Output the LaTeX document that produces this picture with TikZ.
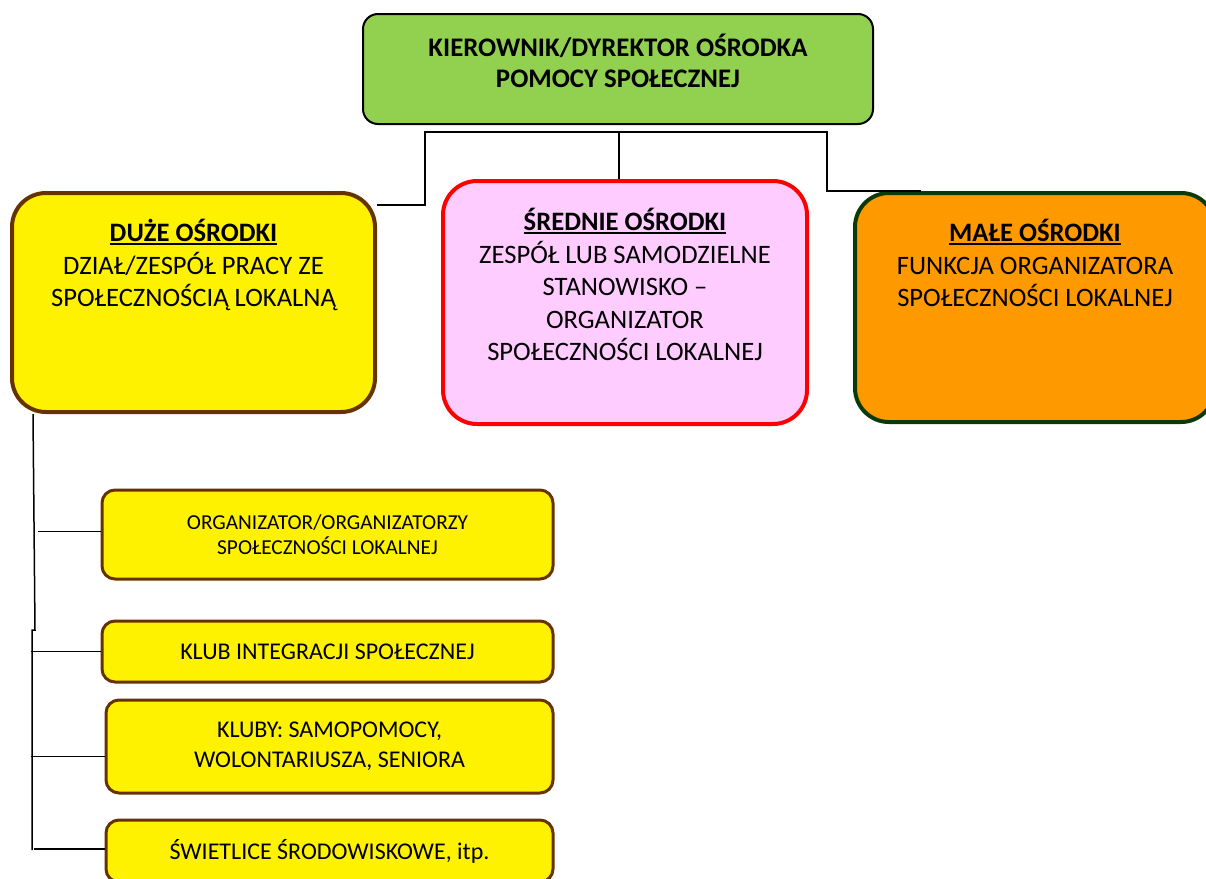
\documentclass[tikz,border=0pt]{standalone}
\usepackage{fontspec}
\setmainfont{Carlito}

\definecolor{bossgreen}{HTML}{92D050}
\definecolor{rootbrown}{HTML}{663300}
\definecolor{midpink}{HTML}{FFCCFF}
\definecolor{smallorange}{HTML}{FF9900}
\definecolor{darkgreen}{HTML}{0A3A0A}

% bold heading with a thick underline
\newcommand{\headtitle}[1]{\leavevmode\vtop{\hbox{\textbf{#1}}\kern1.5pt\hrule height 2pt}}

\begin{document}
\begin{tikzpicture}[x=1pt, y=-1pt,
  bigbox/.style={shape=rectangle, draw, line width=4pt, rounded corners=34pt, inner sep=0pt},
  smallbox/.style={shape=rectangle, draw=rootbrown, fill=yellow, line width=3pt, rounded corners=13pt, inner sep=0pt, minimum width=447pt, align=center, font=\fontsize{24}{30}\selectfont},
  boxtext/.style={anchor=north, inner sep=0pt, align=center, font=\fontsize{26.6}{32.5}\selectfont},
  link/.style={draw, line width=1.5pt}]
\useasboundingbox (0,0) rectangle (1206,878);

\node [bigbox, draw=black, line width=2pt, rounded corners=15pt, fill=bossgreen, minimum width=510pt, minimum height=110pt] (boss) at (618,69) {};
\node [bigbox, draw=red, fill=midpink, minimum width=364pt, minimum height=243pt, below of=boss, node distance=233.5pt, xshift=7pt] (srednie) {};
\node [bigbox, draw=rootbrown, fill=yellow, minimum width=363pt, minimum height=219pt, left of=srednie, node distance=431.5pt] (duze) {};
\node [bigbox, draw=darkgreen, fill=smallorange, minimum width=360pt, minimum height=229pt, right of=srednie, node distance=410pt, yshift=-5pt] (male) {};

\node [boxtext, font=\bfseries\fontsize{26.8}{30.5}\selectfont] (boss-text) at ([yshift=-21pt]boss.north) {KIEROWNIK/DYREKTOR OŚRODKA\\POMOCY SPOŁECZNEJ};
\node [boxtext] (duze-text) at ([yshift=-28pt]duze.north) {\headtitle{DUŻE OŚRODKI}\\DZIAŁ/ZESPÓŁ PRACY ZE\\SPOŁECZNOŚCIĄ LOKALNĄ};
\node [boxtext] (srednie-text) at ([yshift=-29pt]srednie.north) {\headtitle{ŚREDNIE OŚRODKI}\\ZESPÓŁ LUB SAMODZIELNE\\STANOWISKO –\\ORGANIZATOR\\SPOŁECZNOŚCI LOKALNEJ};
\node [boxtext] (male-text) at ([yshift=-28pt]male.north) {\headtitle{MAŁE OŚRODKI}\\FUNKCJA ORGANIZATORA\\SPOŁECZNOŚCI LOKALNEJ};

\node [smallbox, minimum width=451pt, minimum height=89pt, below of=duze, node distance=232pt, xshift=134pt, font=\fontsize{21.3}{25}\selectfont] (organizer) {ORGANIZATOR/ORGANIZATORZY\\SPOŁECZNOŚCI LOKALNEJ};
\node [smallbox, minimum width=451pt, minimum height=61pt, below of=organizer, node distance=117pt] (club) {KLUB INTEGRACJI SPOŁECZNEJ};
\node [smallbox, minimum height=93pt, below of=club, node distance=95pt, xshift=2pt] (clubs) {KLUBY: SAMOPOMOCY,\\WOLONTARIUSZA, SENIORA};
\node [smallbox, minimum height=62pt, below of=clubs, node distance=104.5pt] (daycare) {ŚWIETLICE ŚRODOWISKOWE, itp.};

% connectors from the head
\coordinate (hub) at (619,132);
\draw [link] ([yshift=-14pt]duze.north east) -- ++(48,0) |- (hub);
\draw [link] (srednie.north -| hub) -- (hub) -- ++(208,0) |- ([xshift=68pt]male.north west);

% trunk under the big centres
\coordinate (trunk) at ([xshift=23pt]duze.south west);
\coordinate (bend) at (35,630);
\coordinate (foot) at (32,850);
\draw [link] (trunk) -- (bend) -- ++(-3,0) -- (foot);
\draw [link] ([yshift=3pt]organizer.west) -- ++(-63,0);
\draw [link] (club.west) -- ++(-70,0);
\draw [link] ([yshift=-10pt]clubs.west) -- ++(-74,0);
\draw [link] ([yshift=2pt]daycare.west) -- ++(-71,0);
\end{tikzpicture}
\end{document}
